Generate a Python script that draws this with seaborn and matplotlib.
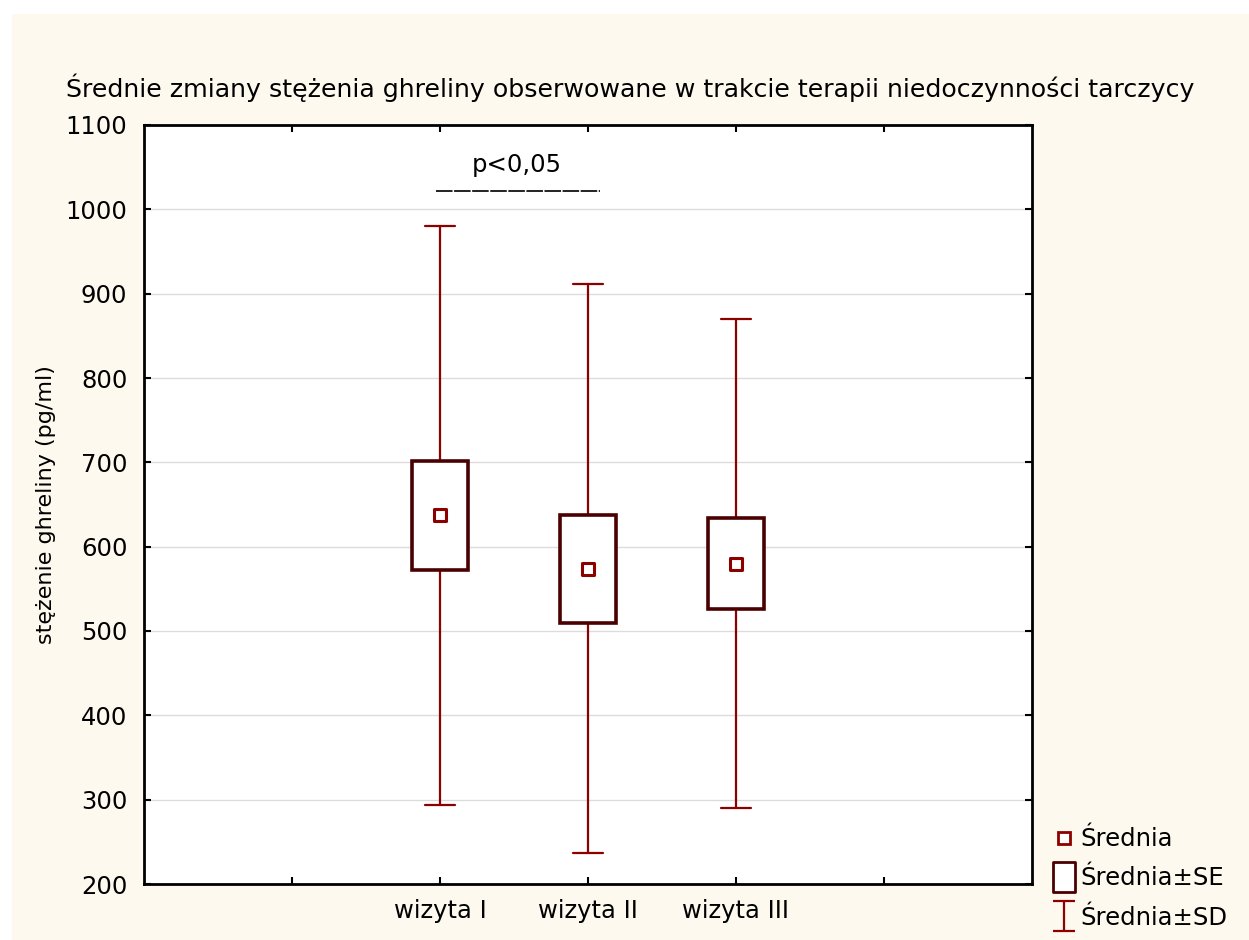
import numpy as np
import pandas as pd
import matplotlib
matplotlib.use("Agg")
import matplotlib.pyplot as plt
from matplotlib.path import Path
from matplotlib.lines import Line2D
from matplotlib.patches import Rectangle
import seaborn as sns

visits = ["wizyta I", "wizyta II", "wizyta III"]
means = [637, 574, 580]
se = [65, 64, 54]
sd = [343, 337, 290]
yticks = [200, 300, 400, 500, 600, 700, 800, 900, 1000, 1100]

title = "Średnie zmiany stężenia ghreliny obserwowane w trakcie terapii niedoczynności tarczycy"
ylabel = "stężenie ghreliny (pg/ml)"
legend_labels = ["Średnia", "Średnia±SE", "Średnia±SD"]
sig_text = "p<0,05"

sns.set_style("white")
plt.rcParams['font.family'] = ['DejaVu Sans']
plt.rcParams['text.color'] = 'black'
plt.rcParams['axes.labelcolor'] = 'black'
plt.rcParams['xtick.color'] = 'black'
plt.rcParams['ytick.color'] = 'black'

WHISK = "#8c0000"
BOXC = "#4a0000"
CREAM = "#fdf9ef"
FS = 17.5

fig = plt.figure(figsize=(12.49, 9.40), dpi=100, facecolor="white")
fig.patches.append(Rectangle((12/1249, 0), 1, 1 - 14/940, transform=fig.transFigure,
                             facecolor=CREAM, edgecolor="none", zorder=-10))
ax = fig.add_axes([144/1249, 1 - 884/940, (1032 - 144)/1249, (884 - 125)/940])
ax.set_facecolor("white")

xpos = np.arange(len(visits)) + 2
df = pd.DataFrame({"x": xpos, "mean": means, "se": se, "sd": sd})

for _, r in df.iterrows():
    lo, hi = r["mean"] - r["sd"], r["mean"] + r["sd"]
    ax.plot([r["x"], r["x"]], [lo, r["mean"] - r["se"]], color=WHISK, lw=1.6, zorder=2)
    ax.plot([r["x"], r["x"]], [r["mean"] + r["se"], hi], color=WHISK, lw=1.6, zorder=2)
    for y in (lo, hi):
        ax.plot([r["x"] - 0.1, r["x"] + 0.1], [y, y], color=WHISK, lw=1.6, zorder=2)
    ax.add_patch(Rectangle((r["x"] - 0.19, r["mean"] - r["se"]), 0.38, 2 * r["se"],
                           facecolor="white", edgecolor=BOXC, lw=2.6, zorder=3))

sns.scatterplot(data=df, x="x", y="mean", marker="s", s=70, facecolor="white",
                edgecolor=WHISK, linewidth=2.2, ax=ax, zorder=4, legend=False)

ax.set_xlim(0, 6)
ax.set_ylim(200, 1100)
ax.set_yticks(yticks)
ax.set_yticklabels([str(t) for t in yticks], fontsize=FS)
ax.set_xticks([1, 2, 3, 4, 5])
ax.set_xticklabels([""] + visits + [""], fontsize=FS)
ax.set_xlabel("")
ax.set_ylabel(ylabel, fontsize=16, labelpad=7)
ax.yaxis.grid(True, color="#dcdcdc", lw=1)
ax.set_axisbelow(True)
for s in ax.spines.values():
    s.set_visible(True)
    s.set_color("black")
    s.set_linewidth(2)
ax.tick_params(direction="in", length=5, width=1.5, top=True, right=True,
               left=True, bottom=True, colors="black")
ax.tick_params(axis="y", pad=12)
ax.tick_params(axis="x", pad=11)

fig.text(66/1249, 1 - 88/940, title, fontsize=18.2, ha="left", va="center")

# significance annotation between wizyta I and wizyta II
ax.text(2.52, 1053, sig_text, fontsize=FS, ha="center", va="center")
ax.plot([1.97, 3.08], [1021.5, 1021.5], color="#222222", lw=1.4,
        dashes=(8.5, 0.8), solid_capstyle="butt", dash_capstyle="butt")

se_marker = Path([(-0.37, -0.5), (0.37, -0.5), (0.37, 0.5), (-0.37, 0.5), (-0.37, -0.5)],
                 [Path.MOVETO, Path.LINETO, Path.LINETO, Path.LINETO, Path.CLOSEPOLY])
sd_marker = Path([(-0.37, 0.5), (0.37, 0.5), (0, 0.5), (0, -0.5), (-0.37, -0.5), (0.37, -0.5)],
                 [Path.MOVETO, Path.LINETO, Path.MOVETO, Path.LINETO, Path.MOVETO, Path.LINETO])
handles = [
    Line2D([], [], ls="none", marker="s", markersize=8, markerfacecolor="white",
           markeredgecolor=WHISK, markeredgewidth=2),
    Line2D([], [], ls="none", marker=se_marker, markersize=22, markerfacecolor="white",
           markeredgecolor=BOXC, markeredgewidth=2),
    Line2D([], [], ls="none", marker=sd_marker, markersize=22, markerfacecolor="none",
           markeredgecolor=WHISK, markeredgewidth=1.6),
]
fig.legend(handles, legend_labels, loc="lower left", bbox_to_anchor=(1034/1249, -9/940),
           frameon=False, fontsize=FS, handlelength=0.9, handletextpad=0.2,
           labelspacing=0.62, borderpad=0.3)

fig.savefig("out.png", dpi=100, facecolor=fig.get_facecolor())
